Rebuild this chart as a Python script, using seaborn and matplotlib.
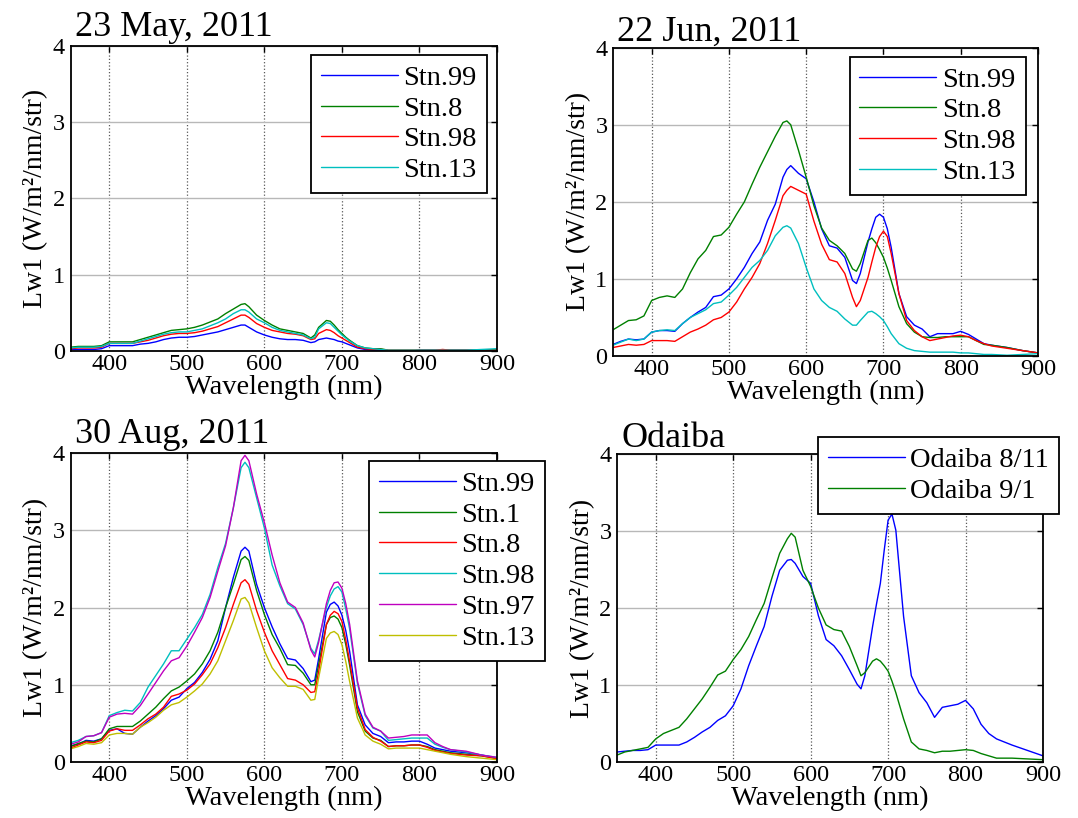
import matplotlib
matplotlib.use("Agg")
import matplotlib.pyplot as plt
import seaborn as sns

# ---------------- data ----------------
WL = [350, 360, 370, 380, 390, 400, 410, 420, 430, 440,
      450, 460, 470, 480, 490, 500, 510, 520, 530, 540,
      550, 560, 570, 575, 580, 590, 600, 610, 620, 630,
      640, 650, 660, 665, 670, 680, 685, 690, 695, 700,
      705, 710, 720, 730, 740, 750, 760, 770, 780, 790,
      800, 810, 820, 830, 840, 860, 880, 900]

XTICKS = [400, 500, 600, 700, 800, 900]
YTICKS = [0, 1, 2, 3, 4]

# 23 May, 2011
may_99 = [.02, .02, .02, .02, .03, .07, .07, .07, .07, .09,
          .10, .12, .15, .17, .18, .18, .19, .21, .23, .25,
          .28, .31, .34, .34, .31, .25, .21, .18, .16, .15,
          .15, .14, .11, .12, .15, .17, .16, .15, .13, .12,
          .10, .08, .04, .02, .01, .01, .00, .00, .00, .00,
          .01, .01, .01, .01, .01, .01, .01, .02]
may_8 = [.05, .06, .06, .06, .07, .12, .12, .12, .12, .15,
         .18, .21, .24, .27, .28, .29, .31, .34, .38, .42,
         .49, .55, .61, .62, .58, .47, .40, .34, .29, .27,
         .25, .23, .17, .21, .31, .40, .39, .34, .28, .23,
         .18, .14, .07, .04, .03, .03, .01, .01, .01, .01,
         .01, .01, .01, .01, .01, .01, .01, .02]
may_98 = [.03, .04, .04, .04, .05, .10, .10, .10, .10, .12,
          .14, .17, .20, .22, .23, .23, .24, .26, .29, .32,
          .37, .42, .47, .47, .44, .36, .31, .27, .25, .23,
          .22, .20, .15, .16, .23, .28, .27, .24, .20, .17,
          .14, .11, .05, .03, .02, .02, .01, .01, .01, .01,
          .01, .01, .01, .02, .01, .01, .01, .01]
may_13 = [.04, .05, .05, .05, .06, .10, .10, .10, .10, .13,
          .16, .19, .22, .24, .25, .25, .27, .29, .33, .37,
          .42, .49, .54, .54, .51, .42, .37, .31, .27, .25,
          .23, .21, .16, .18, .29, .37, .36, .31, .26, .21,
          .17, .13, .07, .04, .03, .02, .01, .01, .01, .01,
          .01, .01, .01, .01, .01, .01, .02, .03]

# 22 Jun, 2011
jun_99 = [.15, .19, .22, .21, .22, .31, .33, .33, .32, .42,
          .50, .57, .63, .77, .79, .87, 1.00, 1.15, 1.33, 1.48,
          1.76, 1.97, 2.32, 2.42, 2.47, 2.37, 2.30, 2.00, 1.65, 1.43,
          1.40, 1.28, .98, .94, 1.07, 1.48, 1.65, 1.80, 1.84, 1.80,
          1.65, 1.41, .81, .51, .40, .35, .25, .29, .29, .29,
          .32, .28, .22, .16, .14, .11, .07, .04]
jun_8 = [.34, .40, .46, .47, .52, .72, .76, .78, .76, .87,
         1.08, 1.26, 1.37, 1.55, 1.57, 1.67, 1.84, 2.00, 2.23, 2.45,
         2.65, 2.85, 3.03, 3.05, 3.00, 2.67, 2.32, 1.95, 1.66, 1.50,
         1.43, 1.33, 1.13, 1.10, 1.20, 1.50, 1.53, 1.47, 1.38, 1.28,
         1.14, .98, .64, .42, .31, .25, .24, .24, .25, .25,
         .25, .25, .20, .15, .14, .11, .07, .04]
jun_98 = [.11, .13, .15, .14, .15, .20, .20, .20, .19, .25,
          .31, .35, .40, .47, .50, .57, .70, .87, 1.02, 1.20,
          1.46, 1.76, 2.08, 2.15, 2.20, 2.15, 2.10, 1.75, 1.45, 1.25,
          1.22, 1.07, .76, .64, .72, 1.02, 1.22, 1.41, 1.55, 1.62,
          1.55, 1.33, .81, .46, .33, .25, .20, .22, .24, .26,
          .27, .25, .20, .16, .13, .10, .07, .04]
jun_13 = [.14, .18, .22, .20, .22, .31, .33, .34, .33, .42,
          .50, .55, .60, .68, .70, .79, .89, 1.02, 1.15, 1.24,
          1.37, 1.56, 1.67, 1.69, 1.66, 1.46, 1.15, .87, .72, .63,
          .58, .48, .40, .40, .46, .57, .58, .55, .51, .46,
          .38, .29, .16, .10, .07, .06, .05, .05, .05, .05,
          .04, .04, .03, .02, .02, .01, .02, .03]

# 30 Aug, 2011
aug_99 = [.21, .23, .28, .27, .30, .41, .43, .37, .36, .45,
          .53, .60, .69, .80, .84, .95, 1.03, 1.16, 1.33, 1.57,
          2.00, 2.39, 2.73, 2.78, 2.73, 2.30, 2.00, 1.75, 1.53, 1.34,
          1.32, 1.21, 1.04, 1.06, 1.34, 1.94, 2.04, 2.07, 2.02, 1.90,
          1.70, 1.43, .74, .48, .37, .33, .25, .26, .26, .27,
          .27, .23, .18, .16, .14, .12, .09, .05]
aug_1 = [.20, .24, .27, .26, .30, .43, .46, .46, .46, .53,
         .62, .71, .82, .92, .97, 1.05, 1.14, 1.27, 1.44, 1.68,
         2.00, 2.30, 2.62, 2.66, 2.61, 2.22, 1.91, 1.65, 1.47, 1.26,
         1.25, 1.15, 1.00, 1.00, 1.26, 1.78, 1.87, 1.89, 1.85, 1.74,
         1.52, 1.25, .65, .40, .31, .28, .20, .21, .21, .22,
         .22, .20, .16, .14, .12, .10, .08, .05]
aug_8 = [.18, .22, .26, .25, .28, .40, .43, .41, .41, .48,
         .56, .62, .71, .85, .88, .93, 1.01, 1.13, 1.27, 1.48,
         1.74, 2.04, 2.32, 2.36, 2.30, 1.96, 1.68, 1.44, 1.26, 1.08,
         1.06, 1.00, .90, .91, 1.17, 1.78, 1.90, 1.95, 1.92, 1.82,
         1.58, 1.30, .70, .42, .32, .27, .20, .21, .21, .22,
         .22, .19, .15, .13, .11, .09, .08, .04]
aug_98 = [.25, .28, .33, .34, .38, .60, .64, .67, .66, .77,
          .97, 1.12, 1.27, 1.44, 1.44, 1.59, 1.74, 1.91, 2.17, 2.52,
          2.83, 3.29, 3.81, 3.88, 3.81, 3.42, 3.03, 2.55, 2.28, 2.05,
          1.98, 1.78, 1.47, 1.40, 1.58, 2.00, 2.15, 2.24, 2.27, 2.20,
          1.98, 1.72, 1.02, .60, .44, .40, .28, .29, .30, .31,
          .31, .31, .23, .19, .16, .13, .09, .06]
aug_97 = [.23, .26, .33, .34, .38, .58, .62, .63, .62, .73,
          .88, 1.03, 1.18, 1.31, 1.35, 1.50, 1.68, 1.87, 2.13, 2.47,
          2.80, 3.29, 3.90, 3.97, 3.90, 3.47, 3.10, 2.68, 2.32, 2.07,
          2.00, 1.80, 1.45, 1.36, 1.55, 2.05, 2.22, 2.32, 2.33, 2.25,
          2.05, 1.78, 1.05, .62, .45, .40, .31, .32, .33, .35,
          .35, .35, .25, .20, .16, .14, .09, .06]
aug_13 = [.17, .20, .24, .23, .25, .35, .37, .37, .36, .45,
          .51, .58, .67, .74, .77, .84, .92, 1.01, 1.14, 1.31,
          1.57, 1.83, 2.11, 2.13, 2.06, 1.74, 1.44, 1.22, 1.09, .98,
          .98, .94, .80, .81, 1.09, 1.60, 1.67, 1.69, 1.65, 1.52,
          1.30, 1.04, .57, .35, .27, .23, .17, .18, .18, .18,
          .18, .16, .14, .12, .10, .07, .05, .03]

# Odaiba
oda_811 = [.13, .14, .15, .15, .16, .22, .22, .22, .22, .26,
           .32, .39, .45, .54, .60, .73, .95, 1.25, 1.51, 1.76,
           2.15, 2.49, 2.62, 2.63, 2.58, 2.41, 2.32, 1.90, 1.59, 1.51,
           1.38, 1.20, 1.01, .95, 1.12, 1.76, 2.05, 2.32, 2.75, 3.14,
           3.22, 3.01, 1.89, 1.12, .90, .77, .58, .71, .73, .75,
           .80, .69, .49, .37, .30, .22, .15, .08]
oda_91 = [.09, .13, .15, .17, .19, .30, .37, .41, .45, .56,
          .69, .82, .97, 1.13, 1.18, 1.33, 1.46, 1.63, 1.85, 2.06,
          2.39, 2.71, 2.90, 2.97, 2.92, 2.49, 2.28, 2.00, 1.78, 1.72,
          1.70, 1.50, 1.25, 1.12, 1.16, 1.31, 1.34, 1.31, 1.25, 1.18,
          1.05, .90, .56, .26, .17, .15, .12, .14, .14, .15,
          .16, .15, .11, .08, .05, .05, .04, .03]

TITLES = ["23 May, 2011", "22 Jun, 2011", "30 Aug, 2011", "Odaiba"]
LABELS = [["Stn.99", "Stn.8", "Stn.98", "Stn.13"],
          ["Stn.99", "Stn.8", "Stn.98", "Stn.13"],
          ["Stn.99", "Stn.1", "Stn.8", "Stn.98", "Stn.97", "Stn.13"],
          ["Odaiba 8/11", "Odaiba 9/1"]]
SERIES = [[may_99, may_8, may_98, may_13],
          [jun_99, jun_8, jun_98, jun_13],
          [aug_99, aug_1, aug_8, aug_98, aug_97, aug_13],
          [oda_811, oda_91]]

# ---------------- style ----------------
BLUE, GREEN, RED = "#0000ff", "#008000", "#ff0000"
CYAN, MAGENTA, YELLOW = "#00bfbf", "#bf00bf", "#bfbf00"
COLORS = [[BLUE, GREEN, RED, CYAN],
          [BLUE, GREEN, RED, CYAN],
          [BLUE, GREEN, RED, CYAN, MAGENTA, YELLOW],
          [BLUE, GREEN]]

sns.set_style("white")
plt.rcParams["font.family"] = ["Liberation Serif", "DejaVu Serif"]
plt.rcParams["text.color"] = "black"
plt.rcParams["axes.labelcolor"] = "black"
plt.rcParams["xtick.color"] = "black"
plt.rcParams["ytick.color"] = "black"

W, H = 1078, 818
# axes boxes in pixels: left, right, top, bottom
BOXES = [(70.5, 497, 45.7, 351),
         (613, 1038, 47.7, 356),
         (70.5, 497, 453, 762),
         (617, 1043, 454, 762)]
# legend upper-right corner in pixels
LEG = [(487, 55), (1025.5, 56.7), (545, 461), (1059, 437)]
TITLE_PAD = [7, 5, 7, 5]

fig = plt.figure(figsize=(W / 100, H / 100), dpi=100)

for i in range(4):
    l, r, t, b = BOXES[i]
    ax = fig.add_axes([l / W, (H - b) / H, (r - l) / W, (b - t) / H])
    for vals, name, col in zip(SERIES[i], LABELS[i], COLORS[i]):
        sns.lineplot(x=WL, y=vals, color=col, lw=1.0, label=name, ax=ax,
                     estimator=None, sort=False)
    ax.set_xlim(350, 900)
    ax.set_ylim(0, 4)
    ax.set_xticks(XTICKS)
    ax.set_yticks(YTICKS)
    ax.xaxis.grid(True, ls=":", color="0.35", lw=0.9)
    ax.yaxis.grid(True, ls="-", color="0.72", lw=1.0)
    ax.set_axisbelow(True)
    ax.tick_params(direction="in", top=True, right=True, length=4, width=1,
                   labelsize=17.5, pad=2, colors="black")
    ax.tick_params(axis="y", pad=4)
    for s in ax.spines.values():
        s.set_visible(True)
        s.set_color("black")
        s.set_linewidth(1.3)
    ax.set_xlabel("Wavelength (nm)", fontsize=20.5, labelpad=0)
    ax.set_ylabel("Lw1 (W/m²/nm/str)", fontsize=20, labelpad=3)
    ax.set_title(TITLES[i], loc="left", fontsize=26, pad=TITLE_PAD[i],
                 x=0.01, color="black")
    lx, ly = LEG[i]
    leg = ax.legend(loc="upper right",
                    bbox_to_anchor=((lx - l) / (r - l), (b - ly) / (b - t)),
                    borderaxespad=0, frameon=True, fancybox=False,
                    edgecolor="black", framealpha=1, fontsize=20.5,
                    handlelength=2.7, handletextpad=0.2, labelspacing=0.17,
                    borderpad=0.35)
    leg.get_frame().set_linewidth(1.3)

fig.savefig("out.png", dpi=100)
